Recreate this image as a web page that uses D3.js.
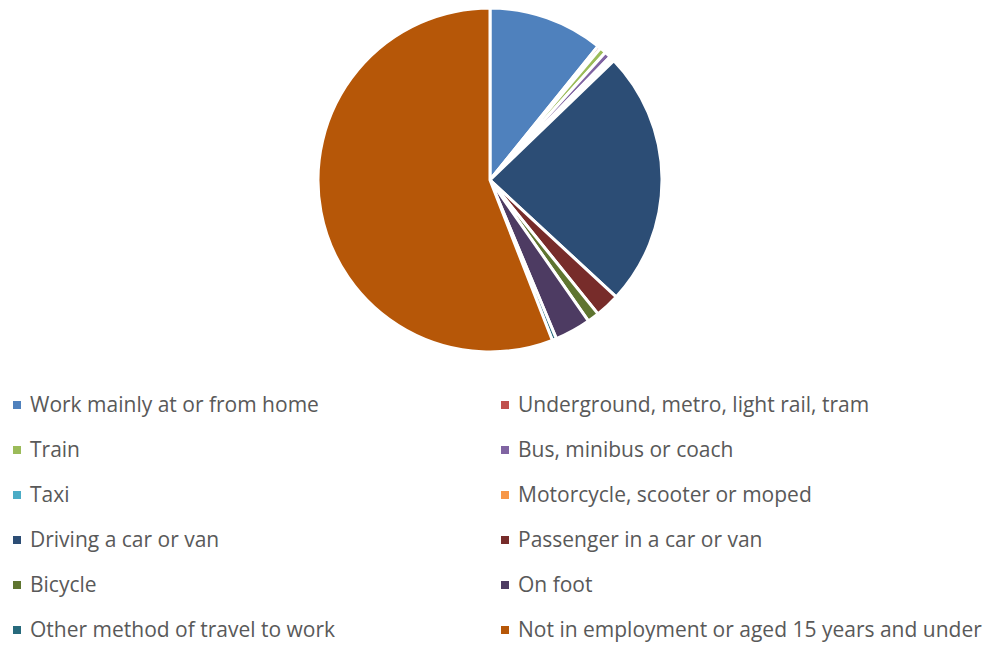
<!DOCTYPE html>
<html>
<head>
<meta charset="utf-8">
<script src="https://cdn.jsdelivr.net/npm/d3@7"></script>
<style>
  body { margin: 0; background: #fff; }
  svg { display: block; }
</style>
</head>
<body>
<div id="chart"></div>
<script>
const categories = [
  'Work mainly at or from home',
  'Underground, metro, light rail, tram',
  'Train',
  'Bus, minibus or coach',
  'Taxi',
  'Motorcycle, scooter or moped',
  'Driving a car or van',
  'Passenger in a car or van',
  'Bicycle',
  'On foot',
  'Other method of travel to work',
  'Not in employment or aged 15 years and under'
];
const shares = [10.8, 0.3, 0.6, 0.6, 0.2, 0.3, 24.1, 2.3, 1.1, 3.4, 0.4, 55.9];
const colors = ['#4f81bd', '#c0504d', '#9bbb59', '#8064a2', '#4bacc6', '#f79646',
                '#2c4d75', '#772c2a', '#5f7530', '#4d3b62', '#276a7c', '#b65708'];

const width = 985, height = 648;
const cx = 490, cy = 180, R = 172;

const svg = d3.select('#chart').append('svg')
  .attr('width', width).attr('height', height);

const data = categories.map((c, i) => ({name: c, value: shares[i], color: colors[i]}));

const pie = d3.pie().sort(null).value(d => d.value);
const arc = d3.arc().innerRadius(0).outerRadius(R);

svg.append('g')
  .attr('transform', `translate(${cx}, ${cy})`)
  .selectAll('path')
  .data(pie(data))
  .join('path')
  .attr('d', arc)
  .attr('fill', d => d.data.color)
  .attr('stroke', '#fff')
  .attr('stroke-width', 3)
  .attr('stroke-linejoin', 'round');

// Legend: two columns, six rows
const col = d3.scalePoint().domain([0, 1]).range([17, 505]);
const row = d3.scalePoint().domain(d3.range(6)).range([405, 630]);

const leg = svg.append('g')
  .selectAll('g')
  .data(data)
  .join('g')
  .attr('transform', (d, i) => `translate(${col(i % 2)}, ${row(Math.floor(i / 2))})`);

leg.append('rect')
  .attr('x', -4).attr('y', -4)
  .attr('width', 8).attr('height', 8)
  .attr('fill', d => d.color);

leg.append('text')
  .attr('x', 13)
  .attr('dy', '0.35em')
  .attr('font-family', '"Open Sans", sans-serif')
  .attr('font-size', 21)
  .attr('fill', '#595959')
  .text(d => d.name);
</script>
</body>
</html>
